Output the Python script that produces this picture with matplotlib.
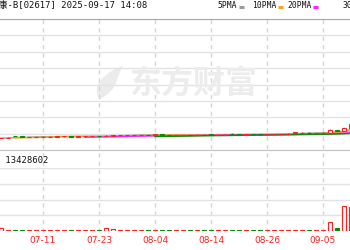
import matplotlib
matplotlib.use("Agg")
import matplotlib.pyplot as plt
from matplotlib.lines import Line2D
from matplotlib.patches import PathPatch
from matplotlib.path import Path
import numpy as np
import pandas as pd

plt.rcParams['font.family'] = ['Noto Sans CJK SC', 'DejaVu Sans']

# ---------------- data ----------------
dates = ["06-23", "06-24", "06-25", "06-26", "06-27", "06-30", "07-02", "07-03", "07-04",
         "07-07", "07-08", "07-09", "07-10", "07-11", "07-14", "07-15", "07-16", "07-17",
         "07-18", "07-21", "07-22", "07-23", "07-24", "07-25", "07-28", "07-29", "07-30",
         "07-31", "08-01", "08-04", "08-05", "08-06", "08-07", "08-08", "08-11", "08-12",
         "08-13", "08-14", "08-15", "08-18", "08-19", "08-20", "08-21", "08-22", "08-25",
         "08-26", "08-27", "08-28", "08-29", "09-01", "09-02", "09-03", "09-04", "09-05",
         "09-08", "09-09", "09-10", "09-11"]
opens = [16.0, 17.6, 18.5, 18.0, 17.6, 17.8, 18.0, 18.2, 18.6,
         21.5, 20.8, 19.8, 20.0, 20.2, 20.4, 20.6, 20.8, 21.0,
         20.6, 20.8, 21.0, 21.2, 21.0, 21.8, 22.3, 22.4, 23.0,
         23.1, 23.2, 22.8, 23.8, 23.2, 22.8, 23.0, 23.1, 22.7,
         23.6, 24.0, 23.5, 23.2, 24.4, 24.2, 23.6, 24.6, 24.4,
         23.8, 23.9, 24.2, 24.6, 25.2, 25.6, 26.0, 25.8, 25.6,
         26.4, 30.2, 29.4, 34.0]
closes = [17.5, 18.6, 18.0, 17.6, 17.8, 18.0, 18.3, 18.6, 18.9,
          21.0, 19.8, 20.0, 20.2, 20.4, 20.6, 20.8, 21.0, 20.6,
          20.8, 21.0, 21.2, 21.0, 21.8, 22.3, 22.4, 23.0, 23.1,
          23.2, 22.8, 23.8, 23.2, 22.8, 23.0, 23.1, 22.7, 23.6,
          23.5, 23.5, 23.6, 23.5, 24.2, 23.6, 23.8, 24.4, 23.8,
          23.9, 24.2, 24.6, 25.0, 26.8, 26.2, 25.9, 26.0, 26.5,
          30.0, 29.0, 33.4, 39.0]
highs = [19.0, 19.5, 18.9, 18.2, 18.1, 18.3, 18.6, 19.0, 19.2,
         21.6, 21.0, 20.3, 20.5, 20.7, 20.9, 21.0, 21.3, 21.1,
         21.0, 21.2, 21.5, 21.3, 22.2, 22.6, 22.6, 23.3, 23.4,
         23.5, 23.3, 24.0, 23.9, 23.3, 23.2, 23.3, 23.2, 23.8,
         23.8, 24.3, 23.8, 23.7, 25.2, 24.4, 24.0, 24.8, 24.5,
         24.1, 24.4, 24.8, 25.2, 28.0, 27.0, 26.8, 26.3, 26.9,
         32.0, 30.8, 34.0, 41.0]
lows = [15.5, 17.2, 17.6, 17.3, 17.4, 17.6, 17.9, 18.1, 18.5,
        20.8, 19.6, 19.6, 19.8, 20.0, 20.2, 20.4, 20.6, 20.4,
        20.5, 20.6, 20.9, 20.8, 20.9, 21.6, 22.0, 22.2, 22.8,
        22.9, 22.6, 22.7, 23.0, 22.6, 22.6, 22.8, 22.5, 22.6,
        23.3, 23.3, 23.3, 23.1, 24.0, 23.5, 23.5, 24.2, 23.6,
        23.6, 23.8, 24.1, 24.5, 25.0, 25.9, 24.9, 25.6, 25.4,
        26.2, 28.8, 29.2, 34.0]
volumes = [30.0, 9.0, 4.0, 2.5, 1.8, 1.0, 1.2, 1.9, 0.6,
           0.8, 0.6, 0.9, 0.5, 0.6, 0.5, 0.5, 0.5, 0.5,
           0.5, 0.5, 0.5, 0.5, 1.9, 1.0, 0.5, 0.5, 0.5,
           0.5, 0.5, 0.6, 0.5, 0.5, 0.5, 0.5, 0.5, 0.5,
           0.5, 0.5, 0.5, 0.5, 0.5, 0.5, 0.5, 0.5, 0.5,
           0.5, 0.5, 0.5, 0.5, 0.5, 0.5, 0.5, 0.5, 0.6,
           5.8, 2.0, 16.0, 15.0]  # millions of shares
tick_dates = ["06-30", "07-11", "07-23", "08-04", "08-14", "08-26", "09-05"]
ma_windows = [5, 10, 20, 30]
ma_names = ["5PMA", "10PMA", "20PMA", "30PMA"]
title_text = "药捷安康-B[02617] 2025-09-17 14:08"
vol_text = "成交量: 13428602"
watermark = "东方财富"

# ---------------- layout ----------------
W, H = 350, 250
fig = plt.figure(figsize=(W / 100, H / 100), dpi=100)
fig.patch.set_facecolor("white")

x0 = dates.index("06-30")
x = np.arange(len(dates))
xlim = (x0 - 0.5, x0 + 56.5)
LEFT, WID = -16.5 / W, 399 / W

def fy(py):
    return 1 - py / H

RED = "#ff2020"
GREEN = "#0a8a0a"
GRID = "#e2e2e2"
ma_colors = ["#9a9a9a", "#f5a623", "#ff22ff", "#0a8a0a"]
MONO = ['DejaVu Sans Mono', 'Noto Sans CJK SC']

# background with vertical dashed lines
bg = fig.add_axes([LEFT, fy(232), WID, (232 - 19) / H])
bg.set_xlim(xlim)
bg.set_ylim(0, 1)
bg.axis("off")
tick_idx = [dates.index(d) for d in tick_dates]
for ti in tick_idx[1:]:
    bg.axvline(ti, color="#d4d4d4", lw=1, ls=(0, (3, 3)))

# watermark
fig.text(193 / W, fy(85), watermark, ha="center", va="center", fontsize=23,
         color="#ececec", fontweight="bold", zorder=0)
logo_pts = [(100, 99), (90, 88), (104, 72), (123, 66),
            (116, 76), (119, 90), (100, 99), (100, 99)]
logo_codes = [Path.MOVETO, Path.CURVE4, Path.CURVE4, Path.CURVE4,
              Path.CURVE4, Path.CURVE4, Path.CURVE4, Path.CLOSEPOLY]
logo_fig = Path([(px / W, fy(py)) for px, py in logo_pts], logo_codes)
fig.add_artist(PathPatch(logo_fig, transform=fig.transFigure, facecolor="#ebebeb",
                         edgecolor="none", zorder=0))

# price panel
ax = fig.add_axes([LEFT, fy(150), WID, 131 / H])
ax.patch.set_alpha(0)
ax.set_xlim(xlim)
pmin, pmax = 0, 200
ax.set_ylim(pmin, pmax)
ax.set_yticks(np.linspace(pmin, pmax, 9))
ax.yaxis.grid(True, color=GRID, lw=1)
ax.set_xticks([])
ax.tick_params(left=False, labelleft=False)
for s in ["left", "right"]:
    ax.spines[s].set_visible(False)
ax.spines["top"].set_color("#a8a8a8")
ax.spines["bottom"].set_color("#c4c4c4")

cl = pd.Series(closes)
for w, c in zip(ma_windows, ma_colors):
    ma = cl.rolling(w).mean()
    ax.plot(x, ma, color=c, lw=1, zorder=3)

for i in x:
    o, c, h, l = opens[i], closes[i], highs[i], lows[i]
    up = c >= o
    col = RED if up else GREEN
    ax.vlines(i, l, h, color=col, lw=0.8, zorder=4)
    ax.bar(i, max(abs(c - o), 0.15), bottom=min(o, c), width=0.7,
           facecolor="white" if up else col, edgecolor=col, lw=0.8, zorder=5)

# volume panel
vx = fig.add_axes([LEFT, fy(231), WID, 63 / H])
vx.patch.set_alpha(0)
vx.set_xlim(xlim)
vmax = 40
vx.set_ylim(0, vmax)
vx.set_yticks([vmax * 0.25, vmax * 0.5, vmax * 0.75, vmax])
vx.yaxis.grid(True, color=GRID, lw=1)
vx.tick_params(left=False, labelleft=False, length=0, pad=3.5)
for s in ["left", "right", "top", "bottom"]:
    vx.spines[s].set_visible(False)
for i in x:
    up = closes[i] >= opens[i]
    col = RED if up else GREEN
    vx.bar(i, volumes[i], width=0.7, facecolor="white" if up else col,
           edgecolor=col, lw=0.8, zorder=3)
vx.set_xticks(tick_idx)
vx.set_xticklabels(tick_dates, color=RED, fontsize=6.5, family="DejaVu Sans")

# texts
fig.text(147 / W, fy(6), title_text, ha="right", va="center", fontsize=6.4,
         color="#111111", family=MONO)
leg_x = [218, 252, 287, 343]
for name, c, lx in zip(ma_names, ma_colors, leg_x):
    t = fig.text(lx / W, fy(6), name, ha="left", va="center", fontsize=5.8,
                 color="#111111", family=MONO)
    lx_end = lx + len(name) * 4.85
    fig.add_artist(Line2D([(lx_end + 2) / W, (lx_end + 7) / W], [fy(6.5), fy(6.5)],
                          color=c, lw=2.2, solid_capstyle="butt"))
fig.text(48 / W, fy(160), vol_text, ha="right", va="center", fontsize=6.4,
         color="#111111", family=MONO)

fig.savefig("out.png", dpi=100)
